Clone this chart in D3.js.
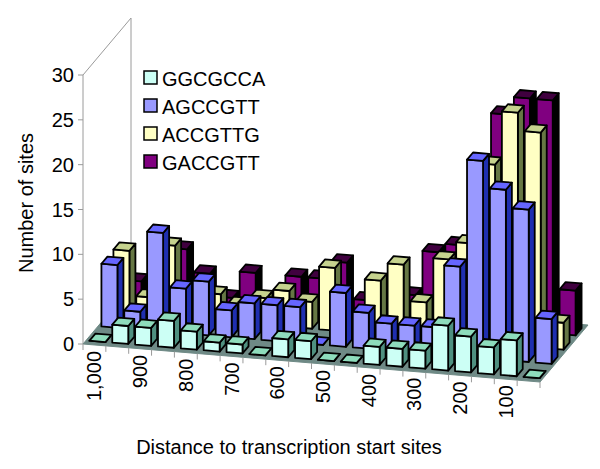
<!DOCTYPE html>
<html>
<head>
<meta charset="utf-8">
<script src="https://d3js.org/d3.v7.min.js"></script>
<style>
  html, body { margin: 0; padding: 0; background: #fff; }
  text { font-family: "Liberation Sans", Arial, sans-serif; fill: #000; }
</style>
</head>
<body>
<div id="chart"></div>
<script>
// distance bins, front to right
const categories = [1000, 950, 900, 850, 800, 750, 700, 650, 600, 550, 500, 450, 400, 350, 300, 250, 200, 150, 100, 50];
const tickLabels = ["1,000", "900", "800", "700", "600", "500", "400", "300", "200", "100"];
const yTicks = [0, 5, 10, 15, 20, 25, 30];

// values
const ggcgcca = [0, 2, 2, 3, 2, 1, 1, 0, 2, 2, 0, 0, 2, 2, 2, 5, 4, 3, 4, 0];
const agccgtt = [7, 2, 11, 5, 6, 3, 4, 4, 4, 0, 6, 4, 3, 3, 3, 10, 22, 19, 17, 5];
const accgttg = [7, 2, 8, 1, 3, 2, 3, 4, 3, 7, 0, 6, 8, 4, 9, 11, 20, 26, 24, 3];
const gaccgtt = [2, 0, 6, 3.5, 1, 4, 1, 4, 4, 6, 2, 0, 3, 8, 9, 6, 24, 26, 26, 5];

const seriesNames = ["GGCGCCA", "AGCCGTT", "ACCGTTG", "GACCGTT"];
const seriesValues = [ggcgcca, agccgtt, accgttg, gaccgtt];
const faceColors = ["#ccfff5", "#9999ff", "#ffffc4", "#800080"];
const topColors = ["#8edcbc", "#6666ff", "#c6d38e", "#40003f"];
const sideColors = ["#4f9080", "#1f2fb0", "#667744", "#000000"];

const width = 600, height = 469;
const originX = 83, originY = 344;   // front left corner of the floor
const floorW = 457, floorSlope = 38; // along the front edge
const depthX = 48, depthY = 57;      // front to back

const svg = d3.select("#chart").append("svg")
    .attr("width", width)
    .attr("height", height)
    .style("display", "block");

const x = d3.scaleBand().domain(categories).range([0, floorW]).paddingInner(0.3).paddingOuter(0.15);
const depth = d3.scaleBand().domain(seriesNames).range([0, 1]).paddingInner(0.5).paddingOuter(0.25);
const y = d3.scaleLinear().domain([0, 30]).range([0, 269]);

// u along the front edge in px, d is depth 0..1, v is height in px
function project(u, d, v) {
    return [originX + u + d * depthX, originY + u / floorW * floorSlope - d * depthY - v];
}
const line = pts => "M" + pts.map(p => p.join(",")).join("L") + "Z";

// walls
svg.append("path")
    .attr("d", d3.line()([project(0, 0, y(30)), project(0, 1, y(30)), project(0, 1, 0)]))
    .attr("fill", "none").attr("stroke", "#9a9a9a");
svg.append("line")
    .attr("x1", originX).attr("x2", originX)
    .attr("y1", originY).attr("y2", originY - y(30))
    .attr("stroke", "#9a9a9a");

// floor
svg.append("path")
    .attr("d", line([project(0, 0, 0), project(floorW, 0, 0), project(floorW, 1, 0), project(0, 1, 0)]))
    .attr("fill", "#6f8a86")
    .attr("stroke", "#6f8a86");

// y axis
const yAxis = svg.selectAll(".ytick").data(yTicks).enter().append("g").attr("class", "ytick");
yAxis.append("line")
    .attr("x1", originX - 5).attr("x2", originX)
    .attr("y1", d => originY - y(d)).attr("y2", d => originY - y(d))
    .attr("stroke", "#9a9a9a");
yAxis.append("text")
    .attr("x", originX - 9)
    .attr("y", d => originY - y(d) + 7)
    .attr("text-anchor", "end")
    .attr("font-size", 20)
    .text(d => d);

// x ticks under the front edge
const step = floorW / categories.length;
svg.selectAll(".xtick").data(d3.range(categories.length + 1)).enter().append("line")
    .attr("class", "xtick")
    .attr("x1", i => project(i * step, 0, 0)[0])
    .attr("x2", i => project(i * step, 0, 0)[0])
    .attr("y1", i => project(i * step, 0, 0)[1])
    .attr("y2", i => project(i * step, 0, 0)[1] + 6)
    .attr("stroke", "#9a9a9a");

svg.selectAll(".xlabel").data(tickLabels).enter().append("text")
    .attr("class", "xlabel")
    .attr("text-anchor", "end")
    .attr("font-size", 20)
    .attr("transform", (d, i) => {
        const p = project(i * 2 * step + step / 2, 0, 0);
        return `translate(${p[0] + 7},${p[1] + 6}) rotate(-90)`;
    })
    .text(d => d);

// bars, back series first
d3.range(seriesNames.length - 1, -1, -1).forEach(s => {
    const name = seriesNames[s];
    const d0 = depth(name), d1 = d0 + depth.bandwidth();
    const bars = svg.append("g")
        .selectAll("g")
        .data(seriesValues[s].map((v, i) => ({ v: v, c: categories[i] })))
        .enter().append("g")
        .attr("stroke", "#000")
        .attr("stroke-width", 1.8)
        .attr("stroke-linejoin", "round");
    const u0 = d => x(d.c), u1 = d => x(d.c) + x.bandwidth();
    bars.append("path").attr("fill", sideColors[s])
        .attr("d", d => line([project(u1(d), d0, 0), project(u1(d), d1, 0), project(u1(d), d1, y(d.v)), project(u1(d), d0, y(d.v))]));
    bars.append("path").attr("fill", faceColors[s])
        .attr("d", d => line([project(u0(d), d0, 0), project(u1(d), d0, 0), project(u1(d), d0, y(d.v)), project(u0(d), d0, y(d.v))]));
    bars.append("path").attr("fill", topColors[s])
        .attr("d", d => line([project(u0(d), d0, y(d.v)), project(u1(d), d0, y(d.v)), project(u1(d), d1, y(d.v)), project(u0(d), d1, y(d.v))]));
});

// legend
const legend = svg.selectAll(".legend").data(seriesNames).enter().append("g")
    .attr("class", "legend")
    .attr("transform", (d, i) => `translate(144,${71 + i * 28})`);
legend.append("rect")
    .attr("width", 13).attr("height", 13)
    .attr("fill", (d, i) => faceColors[i])
    .attr("stroke", "#000").attr("stroke-width", 1.5);
legend.append("text")
    .attr("x", 18).attr("y", 14.5)
    .attr("font-size", 20)
    .text(d => d);

// axis titles
svg.append("text")
    .attr("text-anchor", "middle")
    .attr("font-size", 20)
    .attr("transform", "translate(33,203) rotate(-90)")
    .text("Number of sites");
svg.append("text")
    .attr("x", 289).attr("y", 454)
    .attr("text-anchor", "middle")
    .attr("font-size", 20)
    .text("Distance to transcription start sites");
</script>
</body>
</html>
